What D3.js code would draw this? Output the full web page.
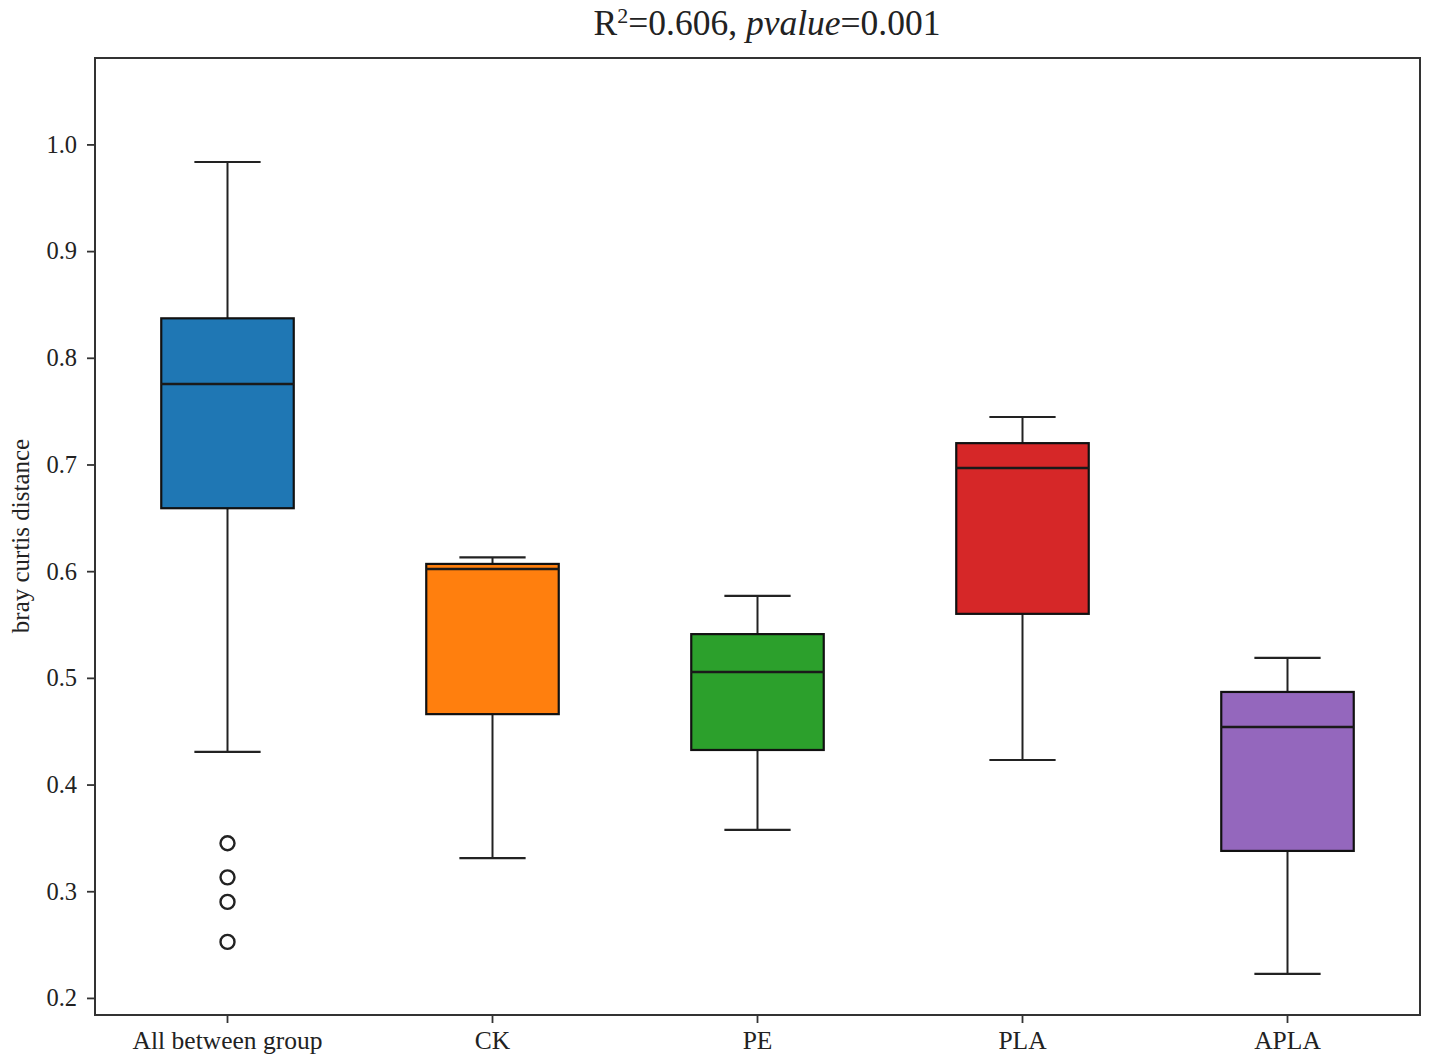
<!DOCTYPE html>
<html>
<head>
<meta charset="utf-8">
<script src="https://cdn.jsdelivr.net/npm/d3@7"></script>
<style>
  body { margin: 0; background: #fff; }
  svg text { font-family: "Liberation Serif", "Times New Roman", serif; fill: #222; }
</style>
</head>
<body>
<svg id="chart" width="1429" height="1064"></svg>
<script>
const categories = ["All between group", "CK", "PE", "PLA", "APLA"];
const colors = ["#1f77b4", "#ff7f0e", "#2ca02c", "#d62728", "#9467bd"];
const whiskerLow  = [0.4306, 0.331, 0.3575, 0.423, 0.2225];
const q1          = [0.659, 0.466, 0.4324, 0.560, 0.3378];
const medians     = [0.7755, 0.602, 0.5055, 0.6967, 0.454];
const q3          = [0.837, 0.6068, 0.541, 0.720, 0.4868];
const whiskerHigh = [0.9835, 0.613, 0.5768, 0.7445, 0.5187];
const outliers    = [[0.345, 0.313, 0.290, 0.2525], [], [], [], []];
const yTicks = [0.2, 0.3, 0.4, 0.5, 0.6, 0.7, 0.8, 0.9, 1.0];
const yLabel = "bray curtis distance";

const data = categories.map((c, i) => ({
  cat: c, color: colors[i], lo: whiskerLow[i], q1: q1[i], med: medians[i],
  q3: q3[i], hi: whiskerHigh[i], out: outliers[i]
}));

const margin = {left: 95, right: 1429 - 1420, top: 58, bottom: 1064 - 1015};
const W = 1429, H = 1064;
const svg = d3.select("#chart");

const x = d3.scaleBand().domain(categories).range([margin.left, W - margin.right]).paddingInner(0).paddingOuter(0);
const y = d3.scaleLinear().domain([0.184, 1.081]).range([H - margin.bottom, margin.top]);

const bw = x.bandwidth();
const boxW = bw * 0.5;
const capW = bw * 0.25;
const cx = d => x(d.cat) + bw / 2;

const g = svg.append("g");
const groups = g.selectAll("g.box").data(data).enter().append("g").attr("class", "box");

groups.append("line").attr("x1", cx).attr("x2", cx).attr("y1", d => y(d.q3)).attr("y2", d => y(d.hi))
  .attr("stroke", "#222").attr("stroke-width", 2);
groups.append("line").attr("x1", cx).attr("x2", cx).attr("y1", d => y(d.q1)).attr("y2", d => y(d.lo))
  .attr("stroke", "#222").attr("stroke-width", 2);
groups.append("line").attr("x1", d => cx(d) - capW / 2).attr("x2", d => cx(d) + capW / 2)
  .attr("y1", d => y(d.hi)).attr("y2", d => y(d.hi)).attr("stroke", "#222").attr("stroke-width", 2.2);
groups.append("line").attr("x1", d => cx(d) - capW / 2).attr("x2", d => cx(d) + capW / 2)
  .attr("y1", d => y(d.lo)).attr("y2", d => y(d.lo)).attr("stroke", "#222").attr("stroke-width", 2.2);

groups.append("rect")
  .attr("x", d => cx(d) - boxW / 2).attr("width", boxW)
  .attr("y", d => y(d.q3)).attr("height", d => y(d.q1) - y(d.q3))
  .attr("fill", d => d.color).attr("stroke", "#111").attr("stroke-width", 2.2);

groups.append("line").attr("x1", d => cx(d) - boxW / 2).attr("x2", d => cx(d) + boxW / 2)
  .attr("y1", d => y(d.med)).attr("y2", d => y(d.med)).attr("stroke", "#1a1a1a").attr("stroke-width", 2.5);

groups.each(function(d) {
  d3.select(this).selectAll("circle").data(d.out).enter().append("circle")
    .attr("cx", cx(d)).attr("cy", v => y(v)).attr("r", 7)
    .attr("fill", "none").attr("stroke", "#222").attr("stroke-width", 2.4);
});

svg.append("rect").attr("x", margin.left).attr("y", margin.top)
  .attr("width", W - margin.right - margin.left).attr("height", H - margin.bottom - margin.top)
  .attr("fill", "none").attr("stroke", "#333").attr("stroke-width", 2);

const yAxis = d3.axisLeft(y).tickValues(yTicks).tickFormat(d3.format(".1f")).tickSize(8).tickPadding(10);
const ya = svg.append("g").attr("transform", `translate(${margin.left},0)`).call(yAxis);
ya.select(".domain").remove();
ya.selectAll("line").attr("stroke", "#333").attr("stroke-width", 1.8);
ya.selectAll("text").attr("font-size", 24.5).attr("font-family", "Liberation Serif, serif").attr("fill", "#222");

const xAxis = d3.axisBottom(x).tickSize(8).tickPadding(8);
const xa = svg.append("g").attr("transform", `translate(0,${H - margin.bottom})`).call(xAxis);
xa.select(".domain").remove();
xa.selectAll("line").attr("stroke", "#333").attr("stroke-width", 1.8);
xa.selectAll("text").attr("font-size", 25.5).attr("font-family", "Liberation Serif, serif").attr("fill", "#222");

svg.append("text").attr("transform", `translate(29,536) rotate(-90)`)
  .attr("text-anchor", "middle").attr("font-size", 25).text(yLabel);

const t = svg.append("text").attr("x", 767).attr("y", 35)
  .attr("text-anchor", "middle").attr("font-size", 35.5);
t.append("tspan").text("R");
t.append("tspan").attr("font-size", 22).attr("dy", -12).text("2");
t.append("tspan").attr("dy", 12).text("=0.606, ");
t.append("tspan").attr("font-style", "italic").text("pvalue");
t.append("tspan").text("=0.001");
</script>
</body>
</html>
